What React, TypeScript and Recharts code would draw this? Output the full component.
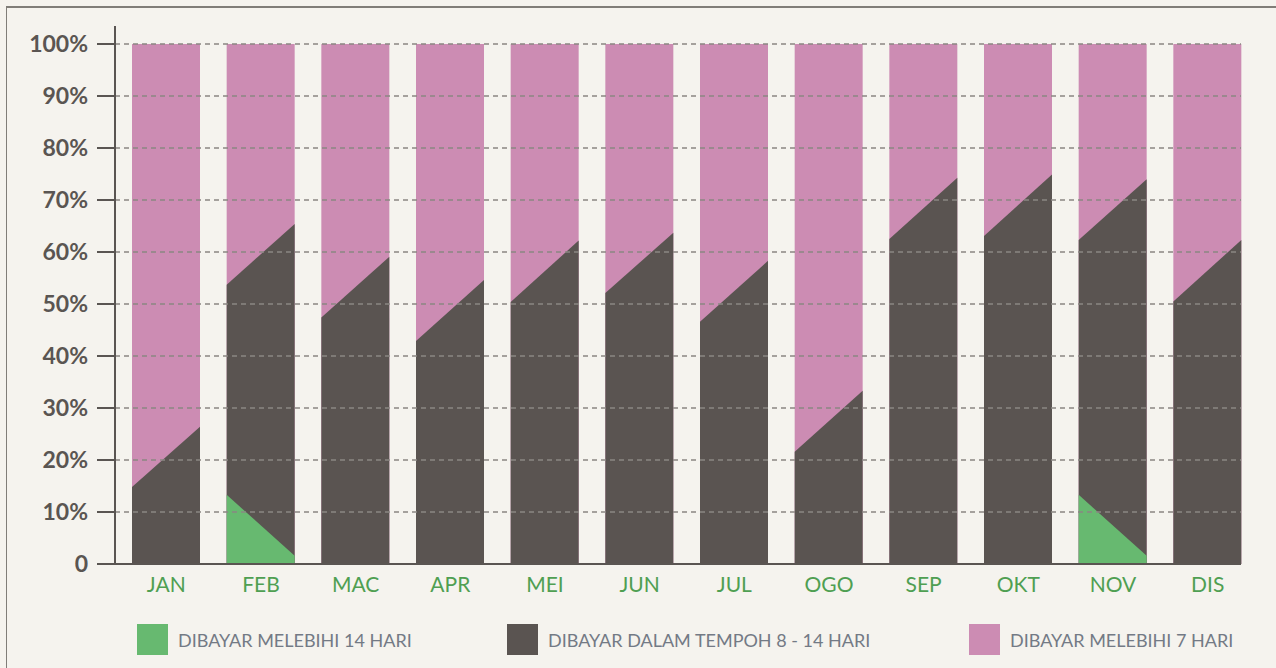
import { BarChart, Bar, XAxis, YAxis, ReferenceLine } from "recharts"

const bulan = ["JAN", "FEB", "MAC", "APR", "MEI", "JUN", "JUL", "OGO", "SEP", "OKT", "NOV", "DIS"]
// boundaries (cumulative %) at the left and right edge of each column
const lebih14Kiri = [0, 13.3, 0, 0, 0, 0, 0, 0, 0, 0, 13.3, 0]
const lebih14Kanan = [0, 1.6, 0, 0, 0, 0, 0, 0, 0, 0, 1.6, 0]
const tempohKiri = [14.8, 53.7, 47.4, 42.9, 50.4, 52.1, 46.6, 21.6, 62.5, 63.1, 62.3, 50.5]
const tempohKanan = [26.4, 65.4, 59.1, 54.6, 62.2, 63.7, 58.3, 33.3, 74.3, 74.9, 74.0, 62.3]
const yTicks = [0, 10, 20, 30, 40, 50, 60, 70, 80, 90, 100]
const siri = ["DIBAYAR MELEBIHI 14 HARI", "DIBAYAR DALAM TEMPOH 8 - 14 HARI", "DIBAYAR MELEBIHI 7 HARI"]

const HIJAU = "#67b970"
const GELAP = "#5a5451"
const MERAH_JAMBU = "#cc8cb3"
const BG = "#f5f3ee"
const AXIS = "#5a5552"
const FONT = "Lato, 'Open Sans', sans-serif"

const data = bulan.map((b, i) => ({
  bulan: b,
  penuh: 100,
  l14a: lebih14Kiri[i],
  l14b: lebih14Kanan[i],
  ta: tempohKiri[i],
  tb: tempohKanan[i],
}))

function Kolom(props: any) {
  const { x, y, width, height, payload } = props
  const base = y + height
  const yAt = (v: number) => base - (v * height) / 100
  const x2 = x + width
  return (
    <g>
      <rect x={x} y={y} width={width} height={height} fill={MERAH_JAMBU} />
      <polygon points={`${x},${base} ${x},${yAt(payload.ta)} ${x2},${yAt(payload.tb)} ${x2},${base}`} fill={GELAP} />
      {payload.l14a > 0 && (
        <polygon points={`${x},${base} ${x},${yAt(payload.l14a)} ${x2},${yAt(payload.l14b)} ${x2},${base}`} fill={HIJAU} />
      )}
    </g>
  )
}

const legendPos = [137, 507, 969]
const legendColors = [HIJAU, GELAP, MERAH_JAMBU]

function Petunjuk() {
  return (
    <div style={{ position: "absolute", left: 0, top: 624, width: 1276, height: 31 }}>
      {siri.map((s, i) => (
        <div key={s} style={{ position: "absolute", left: legendPos[i], top: 0, height: 31, display: "flex", alignItems: "center" }}>
          <span style={{ width: 31, height: 31, background: legendColors[i], display: "inline-block" }} />
          <span style={{ marginLeft: 10, fontFamily: FONT, fontSize: 18, color: "#737a85" }}>{s}</span>
        </div>
      ))}
    </div>
  )
}

export default function App() {
  return (
    <div style={{ position: "absolute", left: 0, top: 0, width: 1276, height: 668, background: BG, overflow: "hidden" }}>
      <div style={{ position: "absolute", left: 6, top: 6, right: 0, bottom: 0, borderTop: "2px solid #807d78", borderLeft: "1px solid #807d78" }} />
      <div style={{ position: "absolute", left: 0, top: 0 }}>
        <BarChart
          width={1276}
          height={668}
          data={data}
          margin={{ top: 26, right: 35, bottom: 0, left: 0 }}
          barSize={68}
        >
          <XAxis
            dataKey="bulan"
            height={104}
            padding={{ left: 4, right: -14 }}
            axisLine={{ stroke: AXIS, strokeWidth: 2 }}
            tickLine={false}
            tickSize={0}
            tickMargin={13}
            tick={{ fill: "#4f9f52", fontSize: 21, fontFamily: FONT }}
            interval={0}
          />
          <YAxis
            width={115}
            domain={[0, 103.46]}
            ticks={yTicks}
            allowDataOverflow
            axisLine={{ stroke: AXIS, strokeWidth: 2 }}
            tickLine={{ stroke: AXIS, strokeWidth: 2 }}
            tickSize={18}
            tickMargin={9}
            tick={{ fill: AXIS, fontSize: 23, fontWeight: 700, fontFamily: FONT }}
            tickFormatter={(v: number) => (v === 0 ? "0" : `${v}%`)}
          />
          <Bar dataKey="penuh" isAnimationActive={false} shape={(p: any) => <Kolom {...p} />} legendType="none" />
          {yTicks.filter(t => t > 0).map(t => (
            <ReferenceLine key={t} y={t} stroke="#8a8683" strokeWidth={1.5} strokeDasharray="5 4" />
          ))}
        </BarChart>
      </div>
      <Petunjuk />
    </div>
  )
}
